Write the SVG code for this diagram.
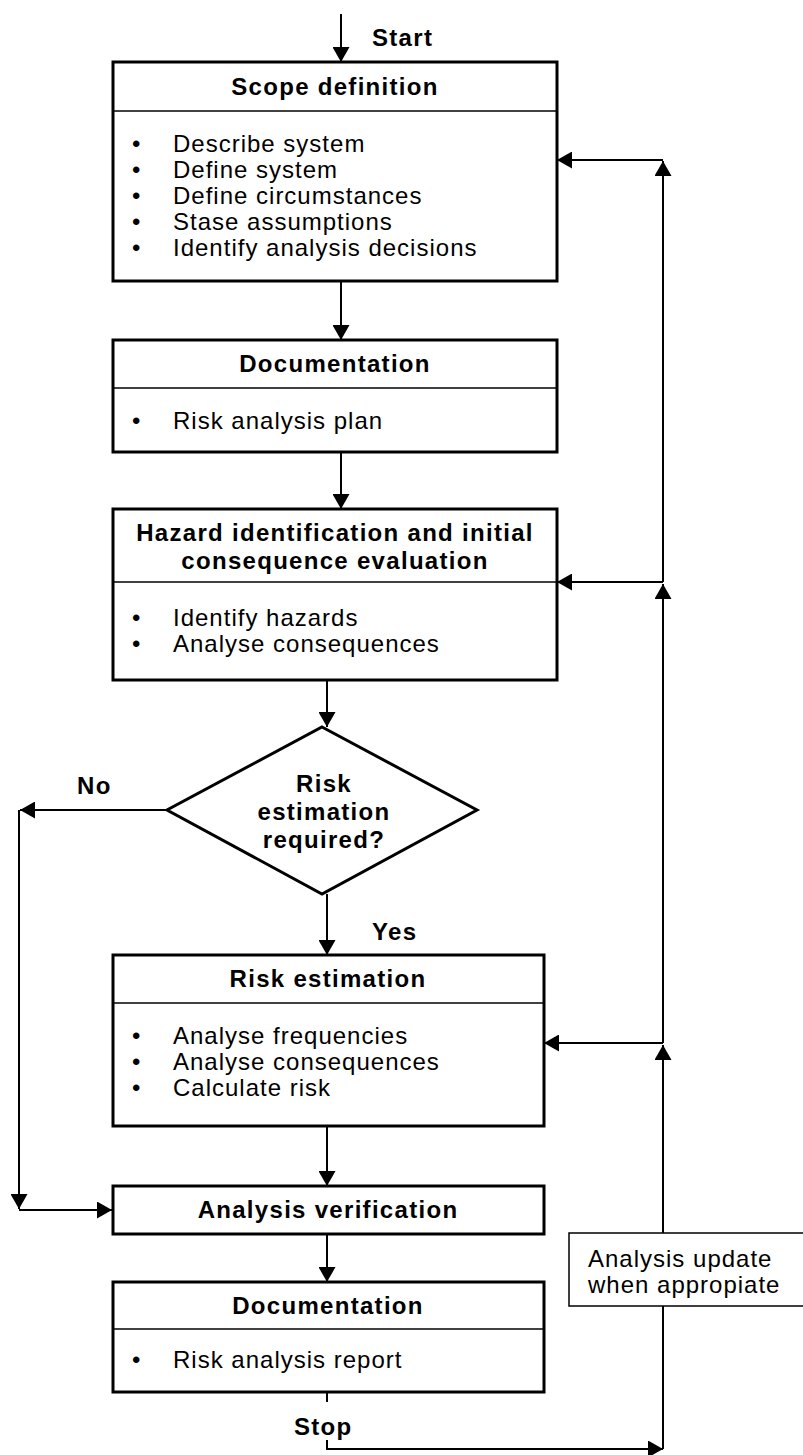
<svg xmlns="http://www.w3.org/2000/svg" width="803" height="1455" viewBox="0 0 803 1455">
<style>
.box{fill:#fff;stroke:#000;stroke-width:3}
.div{stroke:#000;stroke-width:1.5}
.con{fill:none;stroke:#000;stroke-width:2}
.h{font-family:"Liberation Sans",Arial,sans-serif;font-size:24px;font-weight:bold;letter-spacing:1.3px;fill:#000}
.hc{text-anchor:middle}
.t{font-family:"Liberation Sans",Arial,sans-serif;font-size:24px;letter-spacing:1px;fill:#000}
</style>
<defs>
<marker id="ah" viewBox="0 0 15 17" refX="15" refY="8.5" markerWidth="15" markerHeight="17" markerUnits="userSpaceOnUse" orient="auto">
<path d="M0,0 L15,8.5 L0,17 z" fill="#000"/>
</marker>
</defs>
<g id="connectors">
<path class="con" d="M341,14 V62" marker-end="url(#ah)"/>
<path class="con" d="M341,281 V340" marker-end="url(#ah)"/>
<path class="con" d="M341,452 V509" marker-end="url(#ah)"/>
<path class="con" d="M327,680 V727" marker-end="url(#ah)"/>
<path class="con" d="M327,894 V955" marker-end="url(#ah)"/>
<path class="con" d="M167,810 H20" marker-end="url(#ah)"/>
<path class="con" d="M19,810 V1209" marker-end="url(#ah)"/>
<path class="con" d="M19,1210 H112" marker-end="url(#ah)"/>
<path class="con" d="M327,1126 V1186" marker-end="url(#ah)"/>
<path class="con" d="M327,1234 V1282" marker-end="url(#ah)"/>
<path class="con" d="M327,1392 V1402"/>
<path class="con" d="M327,1440 V1449 H663" marker-end="url(#ah)"/>
<path class="con" d="M663,1449 V1045" marker-end="url(#ah)"/>
<path class="con" d="M663,1043 H544" marker-end="url(#ah)"/>
<path class="con" d="M663,1043 V584" marker-end="url(#ah)"/>
<path class="con" d="M663,582 H557" marker-end="url(#ah)"/>
<path class="con" d="M663,582 V161" marker-end="url(#ah)"/>
<path class="con" d="M663,160 H557" marker-end="url(#ah)"/>
</g>
<text class="h" x="372" y="46">Start</text>
<text class="h" x="77" y="794">No</text>
<text class="h" x="372" y="940">Yes</text>
<text class="h" x="294" y="1435">Stop</text>
<g id="scope">
<rect class="box" x="113" y="62" width="444" height="219"/>
<line class="div" x1="113" y1="111" x2="557" y2="111"/>
<text class="h hc" x="335" y="95">Scope definition</text>
<text class="t" x="132" y="152">•</text><text class="t" x="173" y="152">Describe system</text>
<text class="t" x="132" y="178">•</text><text class="t" x="173" y="178">Define system</text>
<text class="t" x="132" y="204">•</text><text class="t" x="173" y="204">Define circumstances</text>
<text class="t" x="132" y="230">•</text><text class="t" x="173" y="230">Stase assumptions</text>
<text class="t" x="132" y="256">•</text><text class="t" x="173" y="256">Identify analysis decisions</text>
</g>
<g id="doc1">
<rect class="box" x="113" y="340" width="444" height="112"/>
<line class="div" x1="113" y1="388" x2="557" y2="388"/>
<text class="h hc" x="335" y="372">Documentation</text>
<text class="t" x="132" y="429">•</text><text class="t" x="173" y="429">Risk analysis plan</text>
</g>
<g id="hazard">
<rect class="box" x="113" y="509" width="444" height="171"/>
<line class="div" x1="113" y1="582" x2="557" y2="582"/>
<text class="h hc" x="335" y="541">Hazard identification and initial</text>
<text class="h hc" x="335" y="569">consequence evaluation</text>
<text class="t" x="132" y="626">•</text><text class="t" x="173" y="626">Identify hazards</text>
<text class="t" x="132" y="652">•</text><text class="t" x="173" y="652">Analyse consequences</text>
</g>
<g id="decision">
<polygon points="322,727 477,810 322,894 167,810" fill="#fff" stroke="#000" stroke-width="3" stroke-linejoin="miter"/>
<text class="h hc" x="324" y="792">Risk</text>
<text class="h hc" x="324" y="820">estimation</text>
<text class="h hc" x="324" y="848">required?</text>
</g>
<g id="riskest">
<rect class="box" x="113" y="955" width="431" height="171"/>
<line class="div" x1="113" y1="1003" x2="544" y2="1003"/>
<text class="h hc" x="328" y="987">Risk estimation</text>
<text class="t" x="132" y="1044">•</text><text class="t" x="173" y="1044">Analyse frequencies</text>
<text class="t" x="132" y="1070">•</text><text class="t" x="173" y="1070">Analyse consequences</text>
<text class="t" x="132" y="1096">•</text><text class="t" x="173" y="1096">Calculate risk</text>
</g>
<g id="verification">
<rect class="box" x="113" y="1186" width="431" height="48"/>
<text class="h hc" x="328" y="1218">Analysis verification</text>
</g>
<g id="doc2">
<rect class="box" x="113" y="1282" width="431" height="110"/>
<line class="div" x1="113" y1="1329" x2="544" y2="1329"/>
<text class="h hc" x="328" y="1314">Documentation</text>
<text class="t" x="132" y="1368">•</text><text class="t" x="173" y="1368">Risk analysis report</text>
</g>
<g id="update">
<rect x="569" y="1233" width="250" height="73" fill="#fff" stroke="#000" stroke-width="1.5"/>
<text class="t" x="588" y="1267">Analysis update</text>
<text class="t" x="588" y="1293">when appropiate</text>
</g>
</svg>
